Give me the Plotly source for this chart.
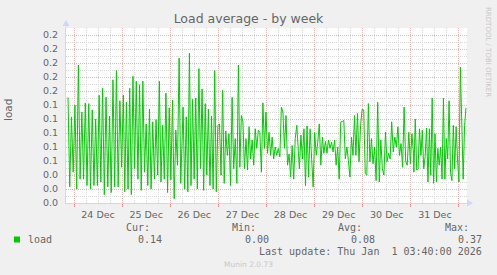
import plotly.graph_objects as go
import pandas as pd

# ---- data (load average) ----
seg_a_start, seg_a_end = "2025-12-23 21:00", "2025-12-25 00:36"
load_a = [0.151, 0.023, 0.123, 0.044, 0.140, 0.020, 0.197, 0.034, 0.130, 0.034, 0.143,
          0.025, 0.142, 0.020, 0.133, 0.025, 0.120, 0.025, 0.154, 0.030, 0.164, 0.012,
          0.151, 0.023, 0.124, 0.015, 0.176, 0.023, 0.189, 0.023, 0.146, 0.051, 0.154]

seg_b_start, seg_b_end = "2025-12-25 01:18", "2025-12-26 05:14"
load_b = [0.016, 0.144, 0.020, 0.164, 0.012, 0.181, 0.049, 0.174, 0.034, 0.169, 0.018,
          0.174, 0.044, 0.113, 0.025, 0.134, 0.020, 0.116, 0.034, 0.119, 0.040, 0.174,
          0.030, 0.111, 0.034, 0.157, 0.015, 0.136, 0.033, 0.147, 0.006, 0.104, 0.054,
          0.207, 0.028]

seg_c_start, seg_c_end = "2025-12-26 06:24", "2025-12-27 10:00"
load_c = [0.137, 0.020, 0.123, 0.016, 0.214, 0.025, 0.148, 0.034, 0.150, 0.020, 0.192,
          0.049, 0.163, 0.018, 0.142, 0.040, 0.134, 0.025, 0.124, 0.020, 0.189, 0.016,
          0.111, 0.113, 0.040, 0.161, 0.028, 0.103, 0.068, 0.099, 0.025, 0.151, 0.049,
          0.092, 0.028, 0.197]

seg_d_start, seg_d_end = "2025-12-27 10:42", "2025-12-28 15:06"
load_d = [0.051, 0.125, 0.116, 0.049, 0.092, 0.047, 0.109, 0.063, 0.090, 0.054, 0.106,
          0.078, 0.104, 0.101, 0.044, 0.143, 0.078, 0.130, 0.071, 0.101, 0.068, 0.094,
          0.063, 0.080, 0.068, 0.078, 0.066, 0.137, 0.130, 0.078, 0.125, 0.054, 0.070,
          0.037, 0.082, 0.034, 0.092, 0.111]

seg_e_start, seg_e_end = "2025-12-28 16:24", "2025-12-29 19:54"
load_e = [0.049, 0.097, 0.063, 0.106, 0.025, 0.110, 0.037, 0.106, 0.063, 0.023, 0.101,
          0.068, 0.087, 0.113, 0.054, 0.094, 0.071, 0.088, 0.071, 0.090, 0.078, 0.087,
          0.073, 0.090, 0.054, 0.080, 0.034, 0.116, 0.116, 0.118, 0.063, 0.080, 0.061,
          0.037, 0.094, 0.068, 0.125]

seg_f_start, seg_f_end = "2025-12-29 20:36", "2025-12-31 01:18"
load_f = [0.068, 0.128, 0.059, 0.111, 0.134, 0.133, 0.042, 0.040, 0.142, 0.059, 0.092,
          0.056, 0.080, 0.032, 0.144, 0.030, 0.090, 0.049, 0.040, 0.101, 0.059, 0.071,
          0.063, 0.116, 0.073, 0.094, 0.080, 0.109, 0.068, 0.085, 0.051, 0.137, 0.059,
          0.054, 0.101, 0.056, 0.099, 0.071]

seg_g_start, seg_g_end = "2025-12-31 01:30", "2026-01-01 03:30"
load_g = [0.044, 0.120, 0.047, 0.049, 0.106, 0.068, 0.104, 0.049, 0.066, 0.107, 0.030,
          0.106, 0.040, 0.150, 0.028, 0.099, 0.030, 0.078, 0.054, 0.080, 0.034, 0.150,
          0.034, 0.092, 0.063, 0.146, 0.044, 0.032, 0.111, 0.049, 0.109, 0.063, 0.030,
          0.194, 0.106, 0.034, 0.111, 0.136]

legend_labels = ["Cur:", "Min:", "Avg:", "Max:"]
legend_values = ["0.14", "0.00", "0.08", "0.37"]
last_update = "Last update: Thu Jan \u00a01 03:40:00 2026"

x_start, x_end = "2025-12-23 20:00", "2026-01-01 04:00"

segments = [(seg_a_start, seg_a_end, load_a), (seg_b_start, seg_b_end, load_b),
            (seg_c_start, seg_c_end, load_c), (seg_d_start, seg_d_end, load_d),
            (seg_e_start, seg_e_end, load_e), (seg_f_start, seg_f_end, load_f),
            (seg_g_start, seg_g_end, load_g)]
times, values = [], []
for s, e, v in segments:
    times.extend(pd.date_range(s, e, periods=len(v)))
    values.extend(v)

# ---- layout geometry (pixels) ----
W, H = 497, 275
L, R, T, B = 66, 467, 28, 203
FONT = "#666666"


def px(x):
    return (x - L) / (R - L)


def py(y):
    return (B - y) / (B - T)


fig = go.Figure()
fig.add_trace(go.Scatter(x=times, y=values, mode="lines",
                         line=dict(color="#00CC00", width=1), hoverinfo="skip",
                         showlegend=False))

MAJ = "#f2b4b4"
MIN = "#dadada"
fig.update_layout(
    width=W, height=H,
    margin=dict(l=L, r=W - R, t=T, b=H - B, pad=0),
    paper_bgcolor="#F0F0F0", plot_bgcolor="#FFFFFF",
    font=dict(family="DejaVu Sans", size=9.5, color=FONT),
    title=dict(text="Load average - by week", x=0.5, xref="container",
               xanchor="center", y=1 - 19 / H, yanchor="middle",
               font=dict(family="DejaVu Sans", size=12.5, color=FONT)),
    xaxis=dict(type="date", range=[x_start, x_end], dtick=86400000, tick0="2025-12-24",
               tickformat="%d %b", ticklabelmode="period",
               showgrid=True, gridcolor=MAJ, griddash="1px,1px", gridwidth=1,
               minor=dict(dtick=6 * 3600000, showgrid=True, gridcolor=MIN,
                          griddash="1px,1px", gridwidth=1),
               ticks="outside", ticklen=3, tickcolor="#f09090", tickwidth=1,
               showline=True, linecolor="#CFD6F8", linewidth=1, zeroline=False,
               fixedrange=True),
    yaxis=dict(range=[0, 0.25], dtick=0.02, tick0=0, tickformat=".1f",
               showgrid=True, gridcolor=MAJ, griddash="1px,1px", gridwidth=1,
               minor=dict(dtick=0.01, showgrid=True, gridcolor=MIN,
                          griddash="1px,1px", gridwidth=1),
               ticks="", ticklabelstandoff=5,
               showline=True, linecolor="#CFD6F8", linewidth=1, zeroline=False,
               fixedrange=True),
)

shapes = []
# axis extensions and arrows
shapes.append(dict(type="line", xref="paper", yref="paper", x0=px(R), x1=px(469),
                   y0=py(B), y1=py(B), line=dict(color="#CFD6F8", width=1)))
shapes.append(dict(type="path", xref="paper", yref="paper",
                   path=f"M {px(467)} {py(199.5)} L {px(473)} {py(203)} L {px(467)} {py(206.5)} Z",
                   fillcolor="#CFD6F8", line=dict(width=0)))
shapes.append(dict(type="line", xref="paper", yref="paper", x0=px(L), x1=px(L),
                   y0=py(T), y1=py(25), line=dict(color="#CFD6F8", width=1)))
shapes.append(dict(type="path", xref="paper", yref="paper",
                   path=f"M {px(62.5)} {py(26)} L {px(66)} {py(20)} L {px(69.5)} {py(26)} Z",
                   fillcolor="#CFD6F8", line=dict(width=0)))
# legend swatch
shapes.append(dict(type="rect", xref="paper", yref="paper", x0=px(14), x1=px(20),
                   y0=py(242.5), y1=py(236.5), fillcolor="#00CC00", line=dict(width=0)))
fig.update_layout(shapes=shapes)

ann = []
MONO = dict(family="DejaVu Sans Mono", size=10, color=FONT)


def text(x, y, s, xanchor="left", font=MONO, angle=0):
    ann.append(dict(x=px(x), y=py(y), xref="paper", yref="paper", text=s,
                    showarrow=False, xanchor=xanchor, yanchor="middle",
                    font=font, textangle=angle, borderpad=0))


text(8, 110, "load", xanchor="center",
     font=dict(family="DejaVu Sans", size=10.5, color=FONT), angle=-90)
text(488, 52, "RRDTOOL / TOBI OETIKER", xanchor="center",
     font=dict(family="DejaVu Sans", size=7, color="#c8c8c8"), angle=90)
text(27, 239.5, "load")
lab_right = [151, 257, 363, 470]
val_right = [163, 270, 376, 483]
for lab, val, xl, xv in zip(legend_labels, legend_values, lab_right, val_right):
    text(xl, 227.5, lab, xanchor="right")
    text(xv, 239.5, val, xanchor="right")
text(483, 251.5, last_update, xanchor="right")
text(248.5, 264, "Munin 2.0.73", xanchor="center",
     font=dict(family="DejaVu Sans", size=7.5, color="#c8c8c8"))
fig.update_layout(annotations=ann)

fig.write_html("out.html", config={"displayModeBar": False})
